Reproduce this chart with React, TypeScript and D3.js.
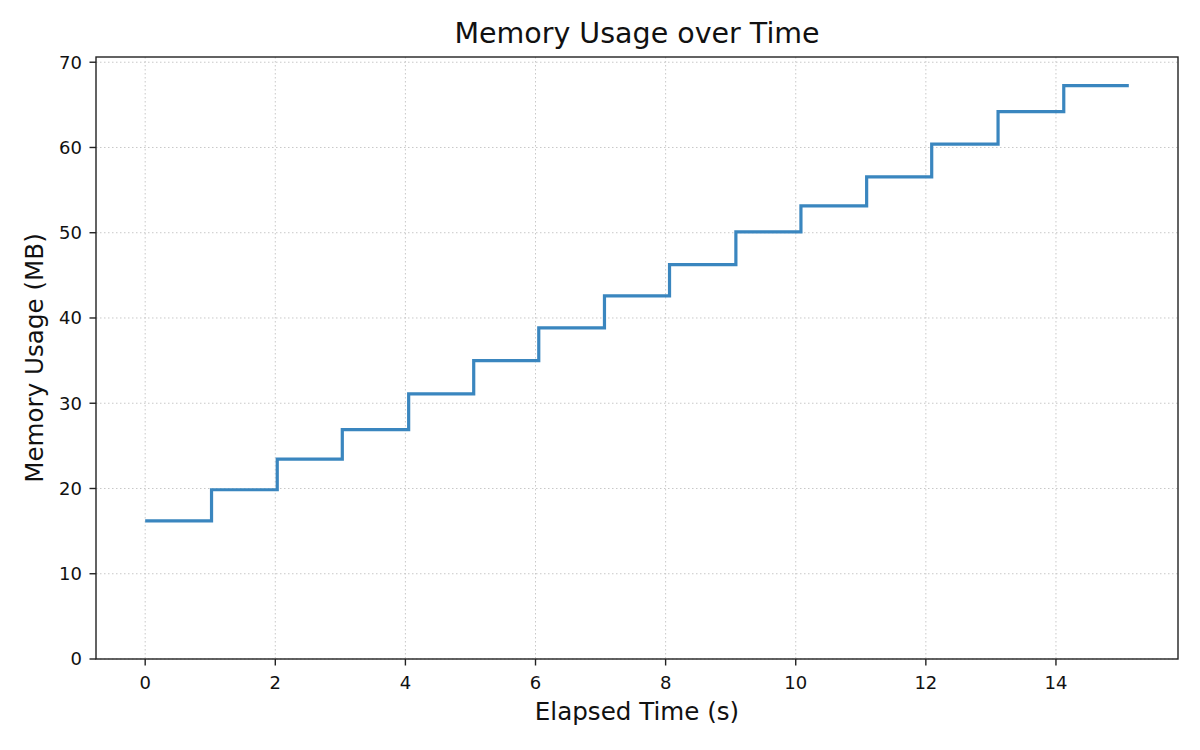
import { useMemo } from 'react';
import * as d3 from 'd3';

// elapsed seconds at each sample, and memory (MB) held from that sample to the next
const elapsed = [0, 1.02, 2.03, 3.03, 4.05, 5.05, 6.05, 7.06, 8.06, 9.08, 10.08, 11.09, 12.09, 13.11, 14.12, 15.12];
const memoryMb = [16.2, 19.85, 23.45, 26.9, 31.1, 35.0, 38.85, 42.6, 46.25, 50.1, 53.15, 56.55, 60.4, 64.2, 67.25, 67.25];
const xTicks = [0, 2, 4, 6, 8, 10, 12, 14];
const yTicks = [0, 10, 20, 30, 40, 50, 60, 70];

const WIDTH = 1200;
const HEIGHT = 750;
const MARGIN = { top: 57, right: 22, bottom: 91, left: 96 };
const FONT = 'DejaVu Sans, sans-serif';

export default function App() {
    const boundsWidth = WIDTH - MARGIN.left - MARGIN.right;
    const boundsHeight = HEIGHT - MARGIN.top - MARGIN.bottom;

    const xScale = useMemo(() => {
        const maxX = d3.max(elapsed)!;
        const pad = maxX * 0.05;
        return d3.scaleLinear().domain([-pad, maxX + pad]).range([0, boundsWidth]);
    }, [boundsWidth]);

    const yScale = useMemo(() => {
        const maxY = d3.max(memoryMb)!;
        return d3.scaleLinear().domain([0, maxY * 1.05]).range([boundsHeight, 0]);
    }, [boundsHeight]);

    const points = elapsed.map((t, i) => [t, memoryMb[i]] as [number, number]);
    const linePath = d3
        .line<[number, number]>()
        .x((d) => xScale(d[0]))
        .y((d) => yScale(d[1]))
        .curve(d3.curveStepAfter)(points);

    return (
        <svg width={WIDTH} height={HEIGHT} style={{ display: 'block', position: 'absolute', left: 0, top: 0 }} fontFamily={FONT}>
            <rect width={WIDTH} height={HEIGHT} fill="white" />
            <text x={MARGIN.left + boundsWidth / 2} y={43} textAnchor="middle" fontSize={28.5} fill="#111">
                Memory Usage over Time
            </text>
            <g transform={`translate(${MARGIN.left},${MARGIN.top})`}>
                {/* grid */}
                {xTicks.map((t) => (
                    <line key={'gx' + t} x1={xScale(t)} x2={xScale(t)} y1={0} y2={boundsHeight} stroke="#c8c8c8" strokeWidth={1} strokeDasharray="1.5 2.5" />
                ))}
                {yTicks.map((t) => (
                    <line key={'gy' + t} x1={0} x2={boundsWidth} y1={yScale(t)} y2={yScale(t)} stroke="#c8c8c8" strokeWidth={1} strokeDasharray="1.5 2.5" />
                ))}

                <path d={linePath ?? ''} fill="none" stroke="#3a86bf" strokeWidth={3.2} />

                {/* frame */}
                <rect x={0} y={0} width={boundsWidth} height={boundsHeight} fill="none" stroke="#222" strokeWidth={1.4} />

                {/* x ticks */}
                {xTicks.map((t) => (
                    <g key={'xt' + t} transform={`translate(${xScale(t)},${boundsHeight})`}>
                        <line y1={0} y2={6.5} stroke="#222" strokeWidth={1.4} />
                        <text y={30} textAnchor="middle" fontSize={18} fill="#111">
                            {t}
                        </text>
                    </g>
                ))}
                {/* y ticks */}
                {yTicks.map((t) => (
                    <g key={'yt' + t} transform={`translate(0,${yScale(t)})`}>
                        <line x1={-6.5} x2={0} stroke="#222" strokeWidth={1.4} />
                        <text x={-14} dy="0.36em" textAnchor="end" fontSize={18} fill="#111">
                            {t}
                        </text>
                    </g>
                ))}
            </g>
            <text x={MARGIN.left + boundsWidth / 2} y={720} textAnchor="middle" fontSize={24.6} fill="#111">
                Elapsed Time (s)
            </text>
            <text transform={`translate(43,${MARGIN.top + boundsHeight / 2}) rotate(-90)`} textAnchor="middle" fontSize={24.6} fill="#111">
                Memory Usage (MB)
            </text>
        </svg>
    );
}
